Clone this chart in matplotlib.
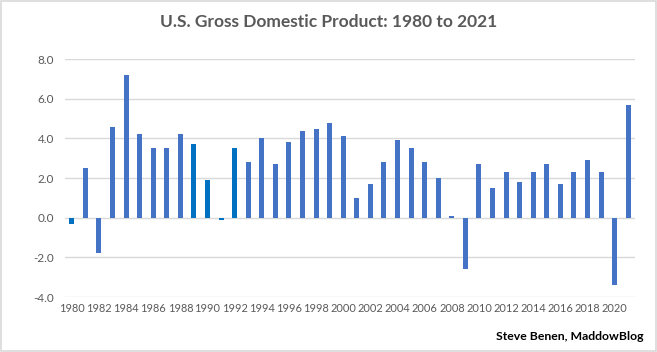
import matplotlib.pyplot as plt
import numpy as np

years = list(range(1980, 2022))
gdp = [-0.3, 2.5, -1.8, 4.6, 7.2, 4.2, 3.5, 3.5, 4.2, 3.7,
       1.9, -0.1, 3.5, 2.8, 4.0, 2.7, 3.8, 4.4, 4.5, 4.8,
       4.1, 1.0, 1.7, 2.8, 3.9, 3.5, 2.8, 2.0, 0.1, -2.6,
       2.7, 1.5, 2.3, 1.8, 2.3, 2.7, 1.7, 2.3, 2.9, 2.3,
       -3.4, 5.7]
dark_years = [1980, 1989, 1990, 1991, 1992]

plt.rcParams['font.family'] = ['Lato', 'DejaVu Sans']

colors = ["#0070C0" if y in dark_years else "#4472C4" for y in years]
x = np.arange(len(years))

fig = plt.figure(figsize=(6.57, 3.52), dpi=100)
ax = fig.add_axes([0.099, 0.156, 0.8675, 0.676])

ax.bar(x, gdp, width=0.37, color=colors, zorder=2)

ax.set_xlim(-0.5, len(years) - 0.5)
ax.set_ylim(-4, 8)
ax.set_yticks(np.arange(-4, 8.1, 2))
ax.set_yticklabels([f"{v:.1f}" for v in np.arange(-4, 8.1, 2)])
ax.set_xticks(x[::2])
ax.set_xticklabels([str(y) for y in years[::2]])
ax.tick_params(length=0, labelcolor="#595959")
ax.tick_params(axis='x', labelsize=7.9, pad=4)
ax.tick_params(axis='y', labelsize=8.5, pad=8)
ax.grid(axis='y', color="#D9D9D9", linewidth=1, zorder=0)
for s in ax.spines.values():
    s.set_visible(False)

fig.text(0.5, 0.937, "U.S. Gross Domestic Product: 1980 to 2021", ha='center', va='center',
         fontsize=12.5, fontweight='bold', color="#595959")
fig.text(0.98, 0.043, "Steve Benen, MaddowBlog", ha='right', va='center',
         fontsize=8.8, fontweight='bold', color="black")

fig.patches.append(plt.Rectangle((0.001, 0.002), 0.997, 0.995, transform=fig.transFigure,
                                 fill=False, edgecolor="#D9D9D9", linewidth=1.2))

fig.savefig("out.png", dpi=100)
